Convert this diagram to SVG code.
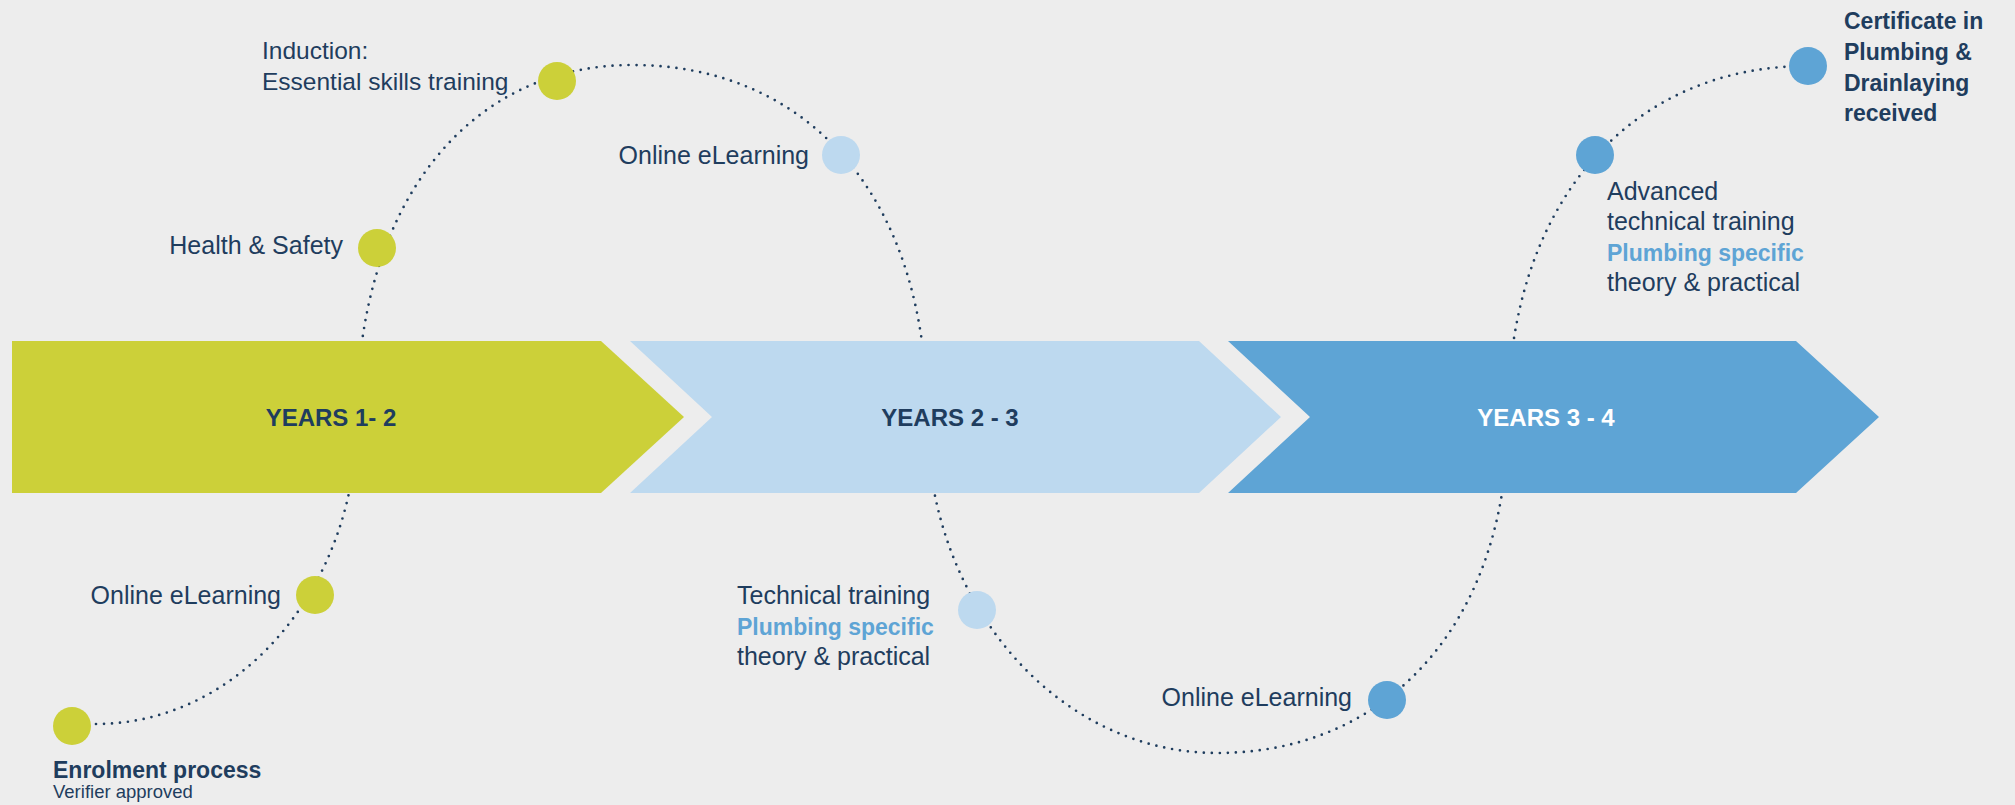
<svg xmlns="http://www.w3.org/2000/svg" width="2015" height="805" viewBox="0 0 2015 805">
  <style>
    .lbl { font-family: "Liberation Sans", Arial, sans-serif; font-size: 25px; fill: #1F3D5E; }
    .b { font-weight: bold; font-size: 23px; }
    .hl { font-weight: bold; font-size: 23px; fill: #5EA4D5; }
    .yr { font-family: "Liberation Sans", Arial, sans-serif; font-size: 24px; font-weight: bold; text-anchor: middle; }
    .small { font-family: "Liberation Sans", Arial, sans-serif; font-size: 18.5px; fill: #1F3D5E; }
    .green { fill: #CCD039; }
    .lblue { fill: #BDD9EF; }
    .blue { fill: #5EA4D5; }
    .dots { fill: none; stroke: #1F3D5E; stroke-width: 2.7; stroke-linecap: round; stroke-dasharray: 0 8; }
  </style>
  <rect x="0" y="0" width="2015" height="805" fill="#EDEDED"/>

  <g id="connectors">
    <path class="dots" d="M 96,724 C 240,724 357,587 357,417 C 357,206 467,65 632,65 C 810,65 927,199 927,417 C 927,603 1057,753 1217,753 C 1391,753 1508,619 1508,417 C 1508,206 1628,66 1808,66"/>
  </g>

  <g id="phase-years-1-2">
    <polygon class="green" points="12,341 601,341 684,417 601,493 12,493"/>
    <text class="yr" x="331" y="426" fill="#1F3D5E">YEARS 1- 2</text>
  </g>
  <g id="phase-years-2-3">
    <polygon class="lblue" points="630,341 1199,341 1281,417 1199,493 630,493 712,417"/>
    <text class="yr" x="950" y="426" fill="#1F3D5E">YEARS 2 - 3</text>
  </g>
  <g id="phase-years-3-4">
    <polygon class="blue" points="1228,341 1796,341 1879,417 1796,493 1228,493 1310,417"/>
    <text class="yr" x="1546" y="426" fill="#FFFFFF">YEARS 3 - 4</text>
  </g>

  <g id="node-enrolment">
    <circle class="green" cx="72" cy="726" r="19"/>
    <text class="lbl b" x="53" y="778">Enrolment process</text>
    <text class="small" x="53" y="798">Verifier approved</text>
  </g>
  <g id="node-online-1">
    <circle class="green" cx="315" cy="595" r="19"/>
    <text class="lbl" x="281" y="604" text-anchor="end">Online eLearning</text>
  </g>
  <g id="node-health-safety">
    <circle class="green" cx="377" cy="248" r="19"/>
    <text class="lbl" x="343" y="254" text-anchor="end">Health &amp; Safety</text>
  </g>
  <g id="node-induction">
    <circle class="green" cx="557" cy="81" r="19"/>
    <text class="lbl" x="262" y="59" style="font-size:24.5px">Induction:</text>
    <text class="lbl" x="262" y="90" style="font-size:24.5px">Essential skills training</text>
  </g>
  <g id="node-online-2">
    <circle class="lblue" cx="841" cy="155" r="19"/>
    <text class="lbl" x="809" y="164" text-anchor="end">Online eLearning</text>
  </g>
  <g id="node-technical">
    <circle class="lblue" cx="977" cy="610" r="19"/>
    <text class="lbl" x="737" y="604">Technical training</text>
    <text class="lbl hl" x="737" y="635">Plumbing specific</text>
    <text class="lbl" x="737" y="665">theory &amp; practical</text>
  </g>
  <g id="node-online-3">
    <circle class="blue" cx="1387" cy="700" r="19"/>
    <text class="lbl" x="1352" y="706" text-anchor="end">Online eLearning</text>
  </g>
  <g id="node-advanced">
    <circle class="blue" cx="1595" cy="155" r="19"/>
    <text class="lbl" x="1607" y="200">Advanced</text>
    <text class="lbl" x="1607" y="230">technical training</text>
    <text class="lbl hl" x="1607" y="261">Plumbing specific</text>
    <text class="lbl" x="1607" y="291">theory &amp; practical</text>
  </g>
  <g id="node-certificate">
    <circle class="blue" cx="1808" cy="66" r="19"/>
    <text class="lbl b" x="1844" y="29">Certificate in</text>
    <text class="lbl b" x="1844" y="60">Plumbing &amp;</text>
    <text class="lbl b" x="1844" y="91">Drainlaying</text>
    <text class="lbl b" x="1844" y="121">received</text>
  </g>
</svg>
